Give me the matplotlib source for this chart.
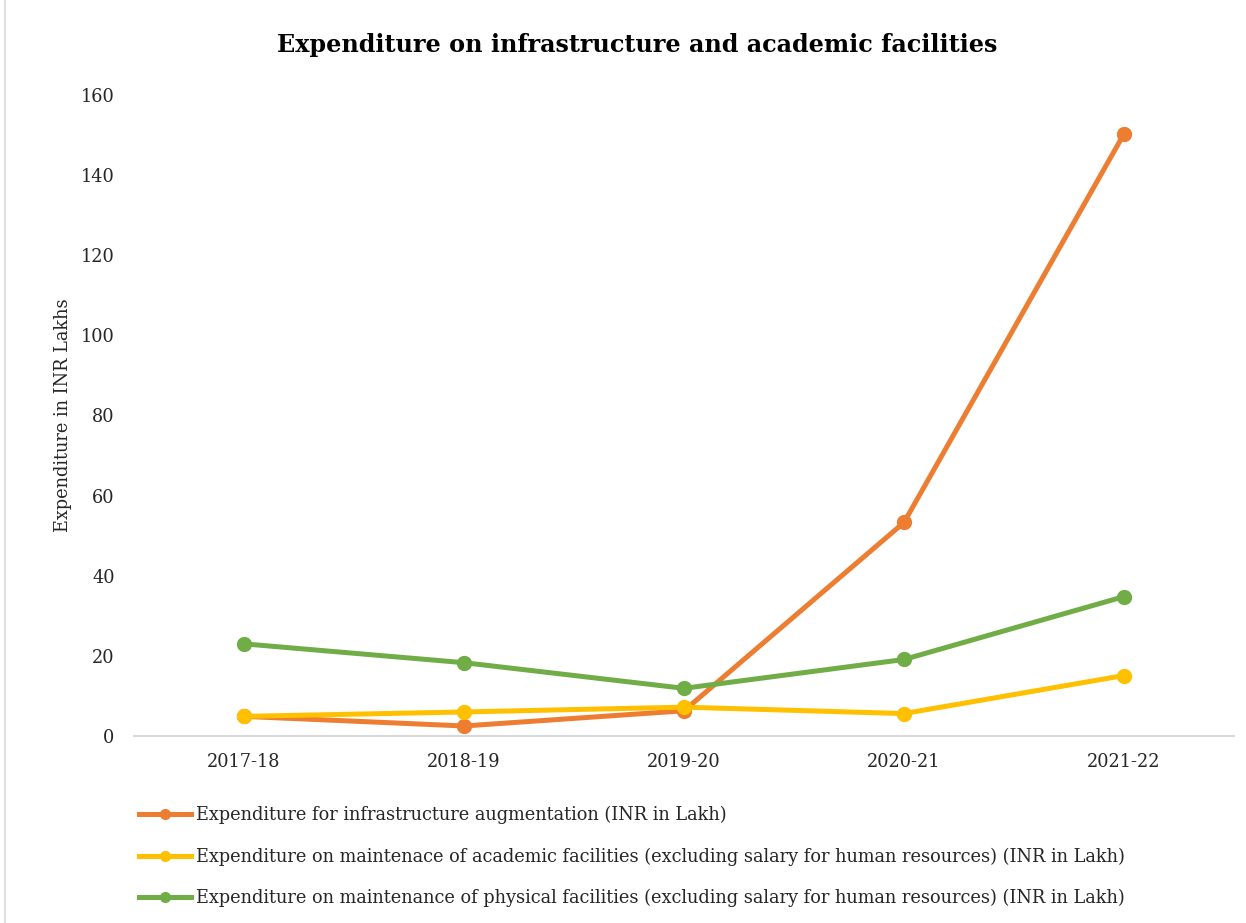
import matplotlib
matplotlib.use("Agg")
import matplotlib.pyplot as plt
from matplotlib.lines import Line2D

years = ["2017-18", "2018-19", "2019-20", "2020-21", "2021-22"]
infra = [4.9, 2.5, 6.3, 53.3, 150.3]
academic = [4.9, 6.0, 7.2, 5.6, 15.1]
physical = [23.0, 18.3, 11.9, 19.1, 34.8]
labels = [
    "Expenditure for infrastructure augmentation (INR in Lakh)",
    "Expenditure on maintenace of academic facilities (excluding salary for human resources) (INR in Lakh)",
    "Expenditure on maintenance of physical facilities (excluding salary for human resources) (INR in Lakh)",
]
colors = ["#ED7D31", "#FFC000", "#70AD47"]

plt.rcParams['font.family'] = ['DejaVu Serif']

W, H = 1246, 923
fig = plt.figure(figsize=(W / 100, H / 100), dpi=100)
ax = fig.add_axes([134 / W, 1 - 736 / H, 1100 / W, (736 - 95) / H])

x = list(range(len(years)))
for vals, c, lab in zip([infra, academic, physical], colors, labels):
    ax.plot(x, vals, color=c, lw=3.6, marker='o', ms=10, label=lab,
            solid_capstyle='round', solid_joinstyle='round')

ax.set_xlim(-0.5, 4.5)
ax.set_ylim(0, 160)
ax.set_yticks(range(0, 161, 20))
ax.set_xticks(x)
ax.set_xticklabels(years)
for s in ['top', 'right', 'left']:
    ax.spines[s].set_visible(False)
ax.spines['bottom'].set_color('#d9d9d9')
ax.spines['bottom'].set_linewidth(1.5)
ax.tick_params(axis='both', length=0, labelsize=12.8, colors='#404040', labelcolor='#262626')
ax.tick_params(axis='x', pad=12)
ax.tick_params(axis='y', pad=14)
ax.set_ylabel("Expenditure in INR Lakhs", fontsize=12.8, color='#262626', labelpad=6)

fig.text(637 / W, 1 - 45 / H, "Expenditure on infrastructure and academic facilities",
         ha='center', va='center', fontsize=17.2, fontweight='bold', color='black')

handles = [Line2D([0], [0], color=c, lw=3.6, marker='o', ms=7) for c in colors]
fig.legend(handles, labels, loc='upper left', bbox_to_anchor=(132 / W, 1 - 799 / H),
           frameon=False, fontsize=12.8, handlelength=2.9, handletextpad=0.3,
           labelspacing=1.3, borderaxespad=0, labelcolor='#262626')

fig.add_artist(Line2D([5 / W, 5 / W], [0, 1], color='#d9d9d9', lw=1.2, transform=fig.transFigure))

fig.savefig("out.png", dpi=100)
